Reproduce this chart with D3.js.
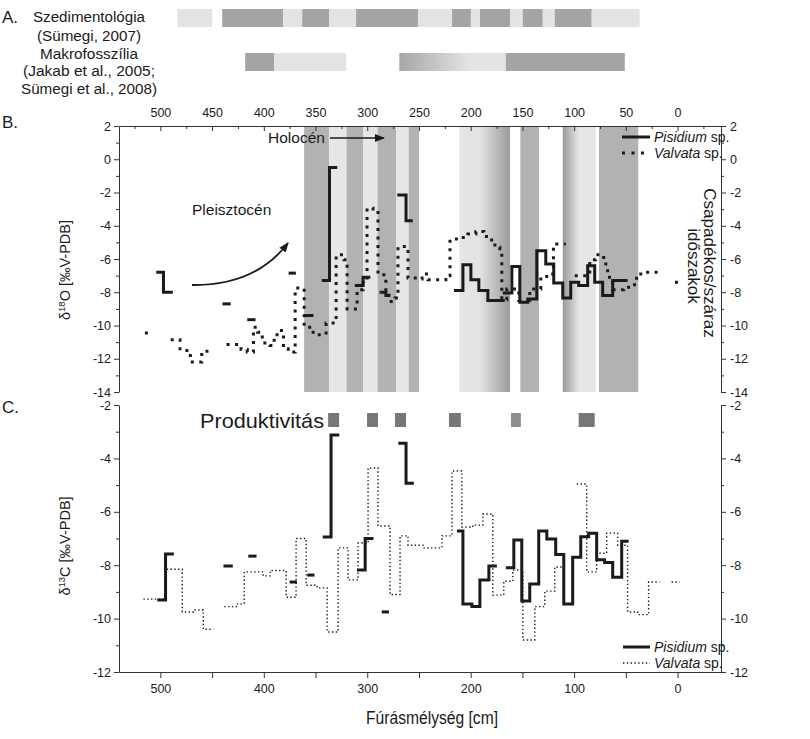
<!DOCTYPE html>
<html><head><meta charset="utf-8">
<script src="https://cdn.jsdelivr.net/npm/d3@7"></script>
<style>
body{margin:0;background:#fff}
svg text{font-family:'Liberation Sans Narrow','Arial Narrow','Liberation Sans',Arial,sans-serif;fill:#1a1a1a}
</style></head><body><svg id="chart" width="810" height="739"></svg>
<script>
// ---------- DATA ----------
const depthTicksTop = [500,450,400,350,300,250,200,150,100,50,0];
const depthTicksTopMinor = [525,475,425,375,325,275,225,175,125,75,25,-25];
const depthTicksBottom = [500,400,300,200,100,0];
const depthTicksBottomMinor = [450,350,250,150,50];
const d18OTicks = [2,0,-2,-4,-6,-8,-10,-12,-14];
const d18OMinor = [1,-1,-3,-5,-7,-9,-11,-13];
const d13CTicks = [-2,-4,-6,-8,-10,-12];
const d13CMinor = [-3,-5,-7,-9,-11];

// depth ranges [from, to, class]
const sedimentology = [[483.6,449.8,"light"],[440.2,381.3,"dark"],[381.3,362.9,"light"],[362.9,336.9,"dark"],
  [336.9,310.8,"light"],[310.8,251,"dark"],[251,218,"light"],[218,199.8,"dark"],[199.8,191,"light"],
  [191,162,"dark"],[162,149.6,"light"],[149.6,130.3,"dark"],[130.3,118.7,"light"],[118.7,83,"dark"],[83,36.7,"light"]];
const macrofossil = [[418,390,"dark"],[390,320.5,"light"],[269,166,"fadeA"],[166,51,"dark"]];
const climateBands = [[361,337,"dark"],[337,320,"light"],[320,304,"dark"],[304,290,"light"],[290,272,"dark"],
  [272,260,"light"],[260,250,"dark"],[211,162,"fadeB1"],[152,134,"dark"],[111,79,"fadeB2"],[76,38,"dark"]];
const productivity = [[337.8,327.2,"high"],[300.2,289.6,"high"],[273.2,262.5,"high"],[221,209.5,"high"],
  [161,151.5,"mid"],[95.6,80.1,"high"]];

// step series: pieces of [depth, value]; each point starts a horizontal run
const pisidiumO = [
  [[504,-6.8],[497,-8.0],[488,-8.0]],
  [[440,-8.7],[432,-8.7]],
  [[416,-9.65],[408,-9.65]],
  [[376,-6.85],[369,-6.85]],
  [[361,-9.4],[352,-9.4]],
  [[344,-7.3],[336.5,-0.5],[329,-0.5]],
  [[312,-7.6],[304,-7.1],[297,-7.1]],
  [[288,-8.0],[282,-8.2],[278,-8.2]],
  [[271,-2.15],[262.5,-3.7],[256,-3.7]],
  [[216.2,-7.9],[207.5,-6.35],[199.8,-7.25],[192.1,-7.9],[183.4,-8.5],[167,-8.5]],
  [[168.9,-8.05],[160.2,-6.45],[152.5,-8.6],[144.8,-8.4],[136.1,-5.5],[127.4,-6.3],[119.7,-7.45],[111,-8.35],
   [103.3,-7.4],[95.6,-7.6],[86.9,-6.4],[80.1,-7.4],[72.4,-8.2],[62.7,-7.3],[48.3,-7.3]]
];
const valvataO = [
  [[515,-10.45],[510,-10.45]],
  [[490,-10.85],[481,-11.5],[471,-12.2],[460,-11.55],[450,-11.55]],
  [[436,-11.15],[422,-11.45],[416,-11.6],[410,-10.1],[406,-10.4],[401.5,-11.05],[394,-11.2],[390,-10.55],
   [385,-10.3],[381,-11.4],[376.4,-11.6],[369.7,-7.75],[361,-10.1],[352.3,-10.55],[344.6,-10.45],[339.8,-9.85],
   [330.1,-5.75],[322.4,-6.05],[319.5,-9.0],[309.8,-7.85],[304,-7.3],[300.2,-2.95],[294.4,-3.1],[289.6,-6.95],
   [282,-8.0],[279,-8.55],[273.2,-8.35],[270.3,-5.25],[260.6,-7.15],[251,-7.2],[247,-6.9],[241.3,-7.25],
   [224,-7.0],[220,-4.8],[210.4,-4.7],[202.7,-4.5],[195,-4.35],[187.3,-4.65],[182.4,-4.85],[176.6,-5.3],
   [171.8,-5.65],[169.9,-8.45],[165.1,-7.8],[153.5,-8.5],[142.9,-7.8],[132.2,-7.05],[122.5,-6.9],[120,-5.1],
   [108,-5.1]],
  [[99.4,-7.0],[84.9,-6.05],[79.2,-5.75],[71.4,-6.3],[67.6,-7.1],[62.7,-7.85],[52.1,-7.7],[43.4,-7.55],
   [39.6,-6.9],[31.9,-6.8],[17.4,-6.8]],
  [[2.5,-7.4],[-1.5,-7.4]]
];
const pisidiumC = [
  [[503,-9.3],[495,-7.58],[487,-7.58]],
  [[439,-8.03],[430,-8.03]],
  [[415,-7.66],[407,-7.66]],
  [[375,-8.63],[368,-8.63]],
  [[358,-8.37],[351,-8.37]],
  [[343,-6.94],[335,-3.12],[327,-3.12]],
  [[310,-8.18],[302,-7.0],[294,-7.0]],
  [[286,-9.75],[279,-9.75]],
  [[270,-3.43],[262.5,-4.93],[255,-4.93]],
  [[213.3,-6.72],[207.5,-9.45],[198.8,-9.55],[191.1,-8.55],[182.4,-8.03],[174.7,-8.03]],
  [[166,-8.1],[158.3,-7.06],[150.6,-9.34],[142.9,-8.7],[134.2,-6.72],[126.4,-7.02],[117.8,-7.6],[110,-9.45],
   [101.4,-7.7],[93.6,-6.93],[85.9,-6.8],[78.2,-7.8],[70.5,-7.9],[62.7,-8.45],[54,-7.1],[47.3,-7.1]]
];
const valvataC = [
  [[516.4,-9.27],[494.2,-8.15],[478.8,-9.75],[468.1,-9.68],[458.5,-10.4],[448.8,-10.4]],
  [[438.2,-9.55],[426.6,-9.45],[418.9,-8.25],[400.6,-8.4],[393.8,-8.2],[378.4,-9.2],[368.8,-7.0],[359.1,-8.75],
   [348.5,-8.85],[338.8,-10.5],[328.2,-7.35],[318.5,-8.55],[308.9,-7.17],[299.2,-4.36],[289.6,-6.53],[278,-9.1],
   [268.3,-6.9],[260.6,-7.25],[246.1,-7.35],[227.8,-6.9],[218.1,-4.47],[208.5,-6.57],[197.9,-6.5],[188.2,-6.08],
   [178.6,-9.12],[168,-8.6],[159.3,-8.18],[149.6,-10.8],[138,-9.55],[128.4,-8.97],[118.7,-8.07],[109,-8.07]],
  [[97.5,-4.96],[87.8,-8.25],[78.2,-7.55],[68.5,-6.8],[57.9,-7.25],[48.3,-9.75],[38.6,-9.85],[28,-8.63],[17.4,-8.63]],
  [[5.8,-8.63],[-1.9,-8.63]]
];
const panelALabels = ["Szedimentológia","(Sümegi, 2007)","Makrofosszília","(Jakab et al., 2005;","Sümegi et al., 2008)"];

// ---------- DRAWING ----------
const svg = d3.select("#chart");
const x = d3.scaleLinear().domain([540,-42]).range([119,721]);
const yB = d3.scaleLinear().domain([2,-14]).range([126,392]);
const yC = d3.scaleLinear().domain([-2,-12]).range([405,672]);
const ink = "#1a1a1a";

const fills = {light:"#e3e3e3", dark:"#a4a4a4"};
const bandFills = {light:"#e6e6e6", dark:"#b2b2b2"};
const defs = svg.append("defs");
function grad(id, from, to, stops){
  const g = defs.append("linearGradient").attr("id",id).attr("gradientUnits","userSpaceOnUse")
    .attr("x1",x(from)).attr("x2",x(to)).attr("y1",0).attr("y2",0);
  stops.forEach(s=>g.append("stop").attr("offset",s[0]).attr("stop-color",s[1]));
}
grad("fadeA",269,166,[[0,"#a6a6a6"],[0.66,"#e4e4e4"],[1,"#e4e4e4"]]);
grad("fadeB1",211,162,[[0,"#e6e6e6"],[0.4,"#e3e3e3"],[1,"#9a9a9a"]]);
grad("fadeB2",111,79,[[0,"#9a9a9a"],[0.5,"#e6e6e6"],[1,"#e6e6e6"]]);

// Panel A
function bar(data, y0, h, palette){
  svg.append("g").selectAll("rect").data(data).join("rect")
    .attr("x",d=>x(d[0])).attr("width",d=>x(d[1])-x(d[0]))
    .attr("y",y0).attr("height",h)
    .attr("fill",d=>palette[d[2]] || `url(#${d[2]})`);
}
bar(sedimentology, 9, 18, fills);
bar(macrofossil, 53, 18, fills);

const big = 17;
svg.append("text").attr("x",2).attr("y",23).attr("font-size",big).text("A.");
const aLayout = [[22,112],[41,104],[58.5,98],[76,132],[93.5,136]];
panelALabels.forEach((t,i)=>svg.append("text").attr("x",89).attr("y",aLayout[i][0]).attr("text-anchor","middle")
  .attr("font-size",15.5).attr("textLength",aLayout[i][1]).attr("lengthAdjust","spacingAndGlyphs").text(t));

// Panel B
svg.append("text").attr("x",2).attr("y",128).attr("font-size",big).text("B.");
svg.append("g").selectAll("rect").data(climateBands).join("rect")
  .attr("x",d=>x(d[0])).attr("width",d=>x(d[1])-x(d[0]))
  .attr("y",yB(2)).attr("height",yB(-14)-yB(2))
  .attr("fill",d=>bandFills[d[2]] || `url(#${d[2]})`);

function styleAxis(g, fs){
  g.selectAll("path,line").attr("stroke","#333").attr("stroke-width",1);
  g.selectAll("text").attr("font-size",fs).attr("font-family",null).attr("fill",ink);
  g.attr("font-family",null);
}
const fmt = d=>String(d);
const lab = 12.5;
let g;
g = svg.append("g").attr("transform",`translate(0,${yB(2)})`)
  .call(d3.axisTop(x).tickValues(depthTicksTop).tickSizeInner(-5).tickSizeOuter(0).tickPadding(9).tickFormat(fmt));
styleAxis(g,lab);
g = svg.append("g").attr("transform",`translate(0,${yB(2)})`)
  .call(d3.axisTop(x).tickValues(depthTicksTopMinor).tickSizeInner(-3).tickSizeOuter(0).tickFormat(""));
g.select(".domain").remove(); styleAxis(g,lab);

function yAxes(scale, major, minor){
  let a = svg.append("g").attr("transform",`translate(${x.range()[0]},0)`)
    .call(d3.axisLeft(scale).tickValues(major).tickSizeInner(5).tickSizeOuter(0).tickPadding(3).tickFormat(fmt));
  styleAxis(a,lab);
  a = svg.append("g").attr("transform",`translate(${x.range()[0]},0)`)
    .call(d3.axisLeft(scale).tickValues(minor).tickSizeInner(3).tickSizeOuter(0).tickFormat(""));
  a.select(".domain").remove(); styleAxis(a,lab);
  a = svg.append("g").attr("transform",`translate(${x.range()[1]},0)`)
    .call(d3.axisRight(scale).tickValues(major).tickSizeInner(5).tickSizeOuter(0).tickPadding(4).tickFormat(fmt));
  styleAxis(a,lab);
  a = svg.append("g").attr("transform",`translate(${x.range()[1]},0)`)
    .call(d3.axisRight(scale).tickValues(minor).tickSizeInner(3).tickSizeOuter(0).tickFormat(""));
  a.select(".domain").remove(); styleAxis(a,lab);
}
yAxes(yB, d18OTicks, d18OMinor);

const lineB = d3.line().x(d=>x(d[0])).y(d=>yB(d[1])).curve(d3.curveStepAfter);
const lineC = d3.line().x(d=>x(d[0])).y(d=>yC(d[1])).curve(d3.curveStepAfter);

svg.append("g").selectAll("path").data(valvataO).join("path")
  .attr("d",lineB).attr("fill","none").attr("stroke",ink).attr("stroke-width",3).attr("stroke-dasharray","3,5.5");
svg.append("g").selectAll("path").data(pisidiumO).join("path")
  .attr("d",lineB).attr("fill","none").attr("stroke",ink).attr("stroke-width",3);

// annotations B
svg.append("text").attr("x",268).attr("y",143).attr("font-size",15.5).text("Holocén");
defs.append("marker").attr("id","arr").attr("viewBox","0 0 10 10").attr("refX",9).attr("refY",5)
  .attr("markerWidth",10).attr("markerHeight",10).attr("markerUnits","userSpaceOnUse").attr("orient","auto")
  .append("path").attr("d","M0,1L10,5L0,9z").attr("fill",ink);
svg.append("line").attr("x1",330).attr("x2",384).attr("y1",138).attr("y2",138)
  .attr("stroke",ink).attr("stroke-width",1.6).attr("marker-end","url(#arr)");
svg.append("text").attr("x",192).attr("y",215).attr("font-size",15.5).text("Pleisztocén");
svg.append("path").attr("d","M192,285Q255,286 288,243").attr("fill","none")
  .attr("stroke",ink).attr("stroke-width",1.8).attr("marker-end","url(#arr)");

// legend B
svg.append("line").attr("x1",622).attr("x2",650).attr("y1",137).attr("y2",137).attr("stroke",ink).attr("stroke-width",3);
svg.append("line").attr("x1",622).attr("x2",650).attr("y1",153).attr("y2",153).attr("stroke",ink).attr("stroke-width",3).attr("stroke-dasharray","3,6.5");
function legText(yy, name){
  const t = svg.append("text").attr("x",654).attr("y",yy).attr("font-size",14);
  t.append("tspan").attr("font-style","italic").text(name);
  t.append("tspan").text(" sp.");
}
legText(142,"Pisidium"); legText(158,"Valvata");

// right title B
svg.append("text").attr("transform","translate(704,263) rotate(90)").attr("text-anchor","middle").attr("font-size",17).text("Csapadékos/száraz");
svg.append("text").attr("transform","translate(688,266) rotate(90)").attr("text-anchor","middle").attr("font-size",17).text("időszakok");

// left title B
function yTitle(cy, sup, el){
  const t = svg.append("text").attr("transform",`translate(70,${cy}) rotate(-90)`).attr("text-anchor","middle").attr("font-size",14.5);
  t.append("tspan").text("δ");
  t.append("tspan").attr("font-size",9.5).attr("dy",-5).text(sup);
  t.append("tspan").attr("dy",5).text(el+" [‰V-PDB]");
}
yTitle(270,"18","O");

// Panel C
svg.append("text").attr("x",2).attr("y",413).attr("font-size",big).text("C.");
yAxes(yC, d13CTicks, d13CMinor);
g = svg.append("g").attr("transform",`translate(0,${yC(-12)})`)
  .call(d3.axisBottom(x).tickValues(depthTicksBottom).tickSizeInner(6).tickSizeOuter(0).tickPadding(6).tickFormat(fmt));
styleAxis(g,lab);
g = svg.append("g").attr("transform",`translate(0,${yC(-12)})`)
  .call(d3.axisBottom(x).tickValues(depthTicksBottomMinor).tickSizeInner(6).tickSizeOuter(0).tickFormat(""));
g.select(".domain").remove(); styleAxis(g,lab);

svg.append("text").attr("x",200).attr("y",428).attr("font-size",21).attr("textLength",124)
  .attr("lengthAdjust","spacingAndGlyphs").text("Produktivitás");
svg.append("g").selectAll("rect").data(productivity).join("rect")
  .attr("x",d=>x(d[0])).attr("width",d=>x(d[1])-x(d[0]))
  .attr("y",413).attr("height",14)
  .attr("fill",d=>d[2]==="high"?"#777777":"#8e8e8e");

svg.append("g").selectAll("path").data(valvataC).join("path")
  .attr("d",lineC).attr("fill","none").attr("stroke",ink).attr("stroke-width",1.4).attr("stroke-dasharray","1.4,2.4");
svg.append("g").selectAll("path").data(pisidiumC).join("path")
  .attr("d",lineC).attr("fill","none").attr("stroke",ink).attr("stroke-width",3);

yTitle(546,"13","C");

// legend C
svg.append("line").attr("x1",623).attr("x2",650).attr("y1",647).attr("y2",647).attr("stroke",ink).attr("stroke-width",3);
svg.append("line").attr("x1",623).attr("x2",650).attr("y1",663).attr("y2",663).attr("stroke",ink).attr("stroke-width",1.4).attr("stroke-dasharray","1.4,2.4");
legText(652,"Pisidium"); legText(668,"Valvata");

svg.append("text").attr("x",432).attr("y",724).attr("text-anchor","middle").attr("font-size",17.5).attr("textLength",132)
  .attr("lengthAdjust","spacingAndGlyphs").text("Fúrásmélység [cm]");
</script></body></html>
